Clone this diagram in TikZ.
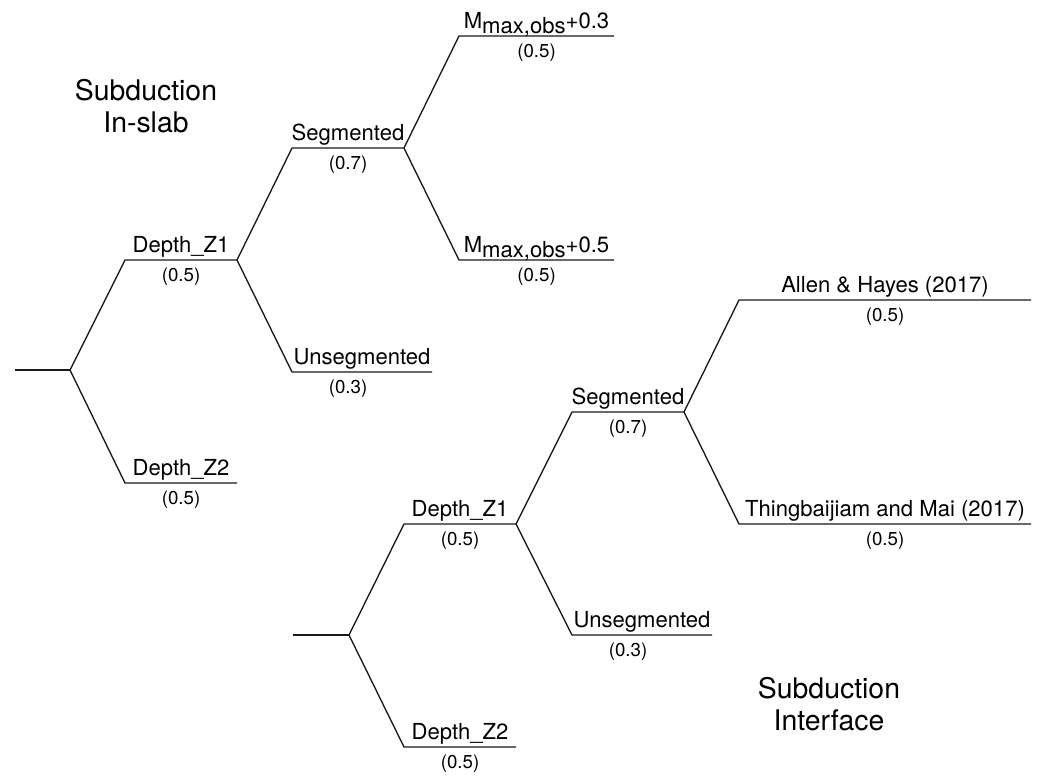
\documentclass[tikz,border=0pt]{standalone}
\usepackage{fontspec}
\setmainfont{TeX Gyre Heros}
\usetikzlibrary{positioning}
\tikzset{
  branch/.style={line width=0.95pt,draw=black!90},
  lab/.style={anchor=base,yshift=5pt,inner sep=0pt,font=\fontsize{15.7}{18}\selectfont},
  prob/.style={anchor=base,yshift=-15pt,inner sep=0pt,font=\fontsize{13.3}{15}\selectfont},
  heading/.style={anchor=base,align=center,inner sep=0pt,font=\fontsize{20.2}{22.7}\selectfont},
}
\newcommand{\mmaxobs}[1]{M\raisebox{-3.3pt}{max,obs}+#1}

\begin{document}
\begin{tikzpicture}[x=0.025cm,y=-0.025cm]
  \useasboundingbox (0,0) rectangle (1039,778);
  % in-slab tree
  \coordinate (a) at (15,370);
  \coordinate (a0) at (70,370);
  \coordinate (a1) at (125,260);   \coordinate (a1e) at (237,260);
  \coordinate (a2) at (125,483);   \coordinate (a2e) at (237,483);
  \coordinate (a11) at (292,148);  \coordinate (a11e) at (404,148);
  \coordinate (a12) at (292,372);  \coordinate (a12e) at (432,372);
  \coordinate (a111) at (459,36);  \coordinate (a111e) at (614,36);
  \coordinate (a112) at (459,260); \coordinate (a112e) at (614,260);
  \draw[branch] (a) -- (a0);
  \draw[branch] (a0) -- (a1) -- (a1e) node[lab,midway] (a1t) {Depth\_Z1} node[prob,midway] (a1p) {(0.5)};
  \draw[branch] (a0) -- (a2) -- (a2e) node[lab,midway] (a2t) {Depth\_Z2} node[prob,midway] (a2p) {(0.5)};
  \draw[branch] (a1e) -- (a11) -- (a11e) node[lab,midway] (a11t) {Segmented} node[prob,midway] (a11p) {(0.7)};
  \draw[branch] (a1e) -- (a12) -- (a12e) node[lab,midway] (a12t) {Unsegmented} node[prob,pos=0.4] (a12p) {(0.3)};
  \draw[branch] (a11e) -- (a111) -- (a111e) node[lab,midway] (a111t) {\mmaxobs{0.3}} node[prob,midway] (a111p) {(0.5)};
  \draw[branch] (a11e) -- (a112) -- (a112e) node[lab,midway] (a112t) {\mmaxobs{0.5}} node[prob,midway] (a112p) {(0.5)};
  \node[heading] (inslab) at (146,132) {Subduction\\In-slab};

  % interface tree
  \coordinate (b) at (293,635);
  \coordinate (b0) at (349,635);
  \coordinate (b1) at (404,524);   \coordinate (b1e) at (516,524);
  \coordinate (b2) at (404,747);   \coordinate (b2e) at (516,747);
  \coordinate (b11) at (572,412);  \coordinate (b11e) at (684,412);
  \coordinate (b12) at (572,635);  \coordinate (b12e) at (712,635);
  \coordinate (b111) at (739,300); \coordinate (b111e) at (1031,300);
  \coordinate (b112) at (739,524); \coordinate (b112e) at (1031,524);
  \draw[branch] (b) -- (b0);
  \draw[branch] (b0) -- (b1) -- (b1e) node[lab,midway] (b1t) {Depth\_Z1} node[prob,midway] (b1p) {(0.5)};
  \draw[branch] (b0) -- (b2) -- (b2e) node[lab,midway] (b2t) {Depth\_Z2} node[prob,midway] (b2p) {(0.5)};
  \draw[branch] (b1e) -- (b11) -- (b11e) node[lab,midway] (b11t) {Segmented} node[prob,midway] (b11p) {(0.7)};
  \draw[branch] (b1e) -- (b12) -- (b12e) node[lab,midway] (b12t) {Unsegmented} node[prob,pos=0.4] (b12p) {(0.3)};
  \draw[branch] (b11e) -- (b111) -- (b111e) node[lab,midway] (b111t) {Allen \& Hayes (2017)} node[prob,midway] (b111p) {(0.5)};
  \draw[branch] (b11e) -- (b112) -- (b112e) node[lab,midway] (b112t) {Thingbaijiam and Mai (2017)} node[prob,midway] (b112p) {(0.5)};
  \node[heading] (iface) at (829,730) {Subduction\\Interface};
\end{tikzpicture}
\end{document}
